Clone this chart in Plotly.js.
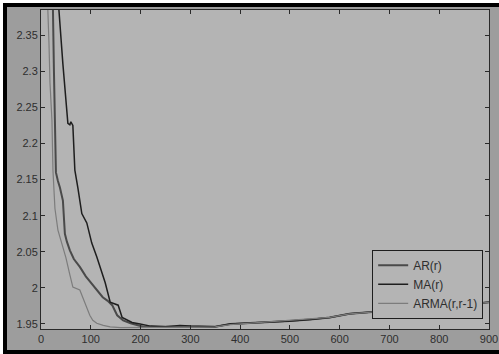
<!DOCTYPE html>
<html>
<head>
<meta charset="utf-8">
<script src="https://cdn.plot.ly/plotly-3.0.1.min.js"></script>
<style>
  html, body { margin: 0; padding: 0; background: #ffffff; width: 499px; height: 354px; overflow: hidden; }
  #frame { position: absolute; left: 3px; top: 3px; width: 496px; height: 351px; background: #000; }
  #chart { position: absolute; left: 7px; top: 7px; width: 492px; height: 343px; }
</style>
</head>
<body>
<div id="frame"></div>
<div id="chart"></div>
<script>
// Series names
const seriesNames = ["AR(r)", "MA(r)", "ARMA(r,r-1)"];

// AR(r) – middle curve
const arX = [22, 24, 26, 28, 30, 34, 38, 44, 48, 52, 58, 66, 78, 90, 104, 114, 124, 134, 143, 153, 165, 180, 193, 205, 230, 260, 300, 350, 380, 420, 460, 500, 540, 580, 620, 640, 700, 800, 900];
const arY = [2.42, 2.385, 2.30, 2.225, 2.160, 2.148, 2.139, 2.121, 2.075, 2.064, 2.052, 2.040, 2.029, 2.016, 2.004, 1.995, 1.987, 1.982, 1.976, 1.962, 1.955, 1.951, 1.948, 1.946, 1.946, 1.946, 1.947, 1.946, 1.950, 1.951, 1.952, 1.954, 1.956, 1.959, 1.964, 1.965, 1.968, 1.974, 1.980];

// MA(r) – rightmost curve
const maX = [33, 36, 44, 52, 54, 58, 60, 64, 68, 74, 82, 92, 102, 112, 120, 129, 139, 147, 155, 163, 173, 183, 199, 220, 250, 279, 300, 350, 380, 420, 460, 500, 540, 580, 620, 640, 700, 800, 900];
const maY = [2.42, 2.385, 2.31, 2.235, 2.228, 2.226, 2.230, 2.225, 2.163, 2.139, 2.103, 2.090, 2.062, 2.043, 2.026, 2.007, 1.980, 1.978, 1.976, 1.959, 1.955, 1.952, 1.950, 1.947, 1.946, 1.948, 1.947, 1.946, 1.950, 1.951, 1.952, 1.954, 1.956, 1.959, 1.964, 1.965, 1.968, 1.974, 1.980];

// ARMA(r,r-1) – leftmost curve
const armaX = [12, 14, 16, 18, 20, 22, 24, 28, 34, 42, 50, 58, 64, 78, 86, 92, 98, 104, 112, 125, 139, 160, 200, 250, 300, 350, 380, 420, 460, 500, 540, 580, 620, 640, 700, 800, 900];
const armaY = [2.42, 2.385, 2.34, 2.285, 2.26, 2.232, 2.163, 2.110, 2.080, 2.062, 2.042, 2.018, 2.001, 1.997, 1.984, 1.973, 1.962, 1.955, 1.951, 1.948, 1.946, 1.945, 1.945, 1.946, 1.946, 1.946, 1.949, 1.951, 1.952, 1.954, 1.956, 1.959, 1.964, 1.965, 1.968, 1.974, 1.980];

// Tick labels
const xTickVals = [0, 100, 200, 300, 400, 500, 600, 700, 800, 900];
const xTickText = ["0", "100", "200", "300", "400", "500", "600", "700", "800", "900"];
const yTickVals = [1.95, 2.0, 2.05, 2.1, 2.15, 2.2, 2.25, 2.3, 2.35];
const yTickText = ["1.95", "2", "2.05", "2.1", "2.15", "2.2", "2.25", "2.3", "2.35"];

const traces = [
  { x: arX, y: arY, name: seriesNames[0], mode: "lines", line: { color: "#4a4a4a", width: 2 } },
  { x: maX, y: maY, name: seriesNames[1], mode: "lines", line: { color: "#1e1e1e", width: 1.5 } },
  { x: armaX, y: armaY, name: seriesNames[2], mode: "lines", line: { color: "#7c7c7c", width: 1.2 } }
];

const axisCommon = {
  showgrid: false, zeroline: false,
  showline: true, linecolor: "#2a2a2a", linewidth: 1, mirror: "ticks",
  ticks: "inside", ticklen: 4, tickcolor: "#2a2a2a", tickwidth: 1,
  tickfont: { family: "Liberation Sans, Arial, sans-serif", size: 11, color: "#2e2e2e" }
};

const layout = {
  width: 492, height: 343,
  margin: { l: 34, r: 10, t: 3, b: 21, pad: 0 },
  paper_bgcolor: "#9d9d9d",
  plot_bgcolor: "#b4b4b4",
  showlegend: true,
  legend: {
    x: 0.987, y: 0.032, xanchor: "right", yanchor: "bottom",
    bgcolor: "#b4b4b4", bordercolor: "#1e1e1e", borderwidth: 1,
    font: { family: "Liberation Sans, Arial, sans-serif", size: 12, color: "#2e2e2e" },
    tracegroupgap: 0, itemwidth: 30
  },
  xaxis: Object.assign({}, axisCommon, {
    range: [0, 900], tickmode: "array", tickvals: xTickVals, ticktext: xTickText
  }),
  yaxis: Object.assign({}, axisCommon, {
    range: [1.943, 2.385], tickmode: "array", tickvals: yTickVals, ticktext: yTickText
  })
};

Plotly.newPlot("chart", traces, layout, { staticPlot: true, displayModeBar: false });
</script>
</body>
</html>
